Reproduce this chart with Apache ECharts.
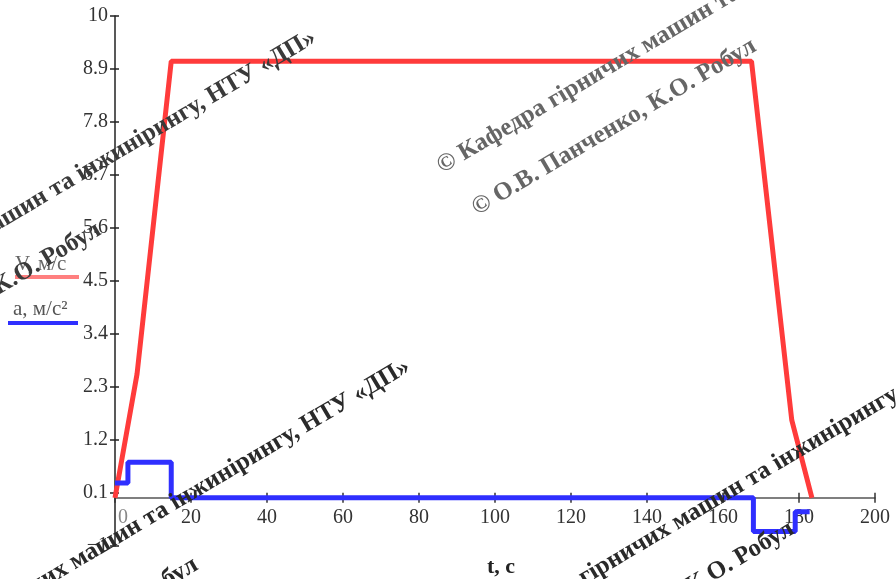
<!DOCTYPE html>
<html>
<head>
<meta charset="utf-8">
<script src="https://cdn.jsdelivr.net/npm/echarts@6/dist/echarts.min.js"></script>
<style>
  html, body { margin: 0; padding: 0; background: #fff; }
  #chart { width: 896px; height: 579px; }
</style>
</head>
<body>
<div id="chart"></div>
<script>
// ---- data ----
const vTime = [0, 5.8, 14.8, 167.5, 178.1, 183.4];
const vSpeed = [0, 2.57, 9.06, 9.06, 1.61, 0];

const aTime = [0, 3.4, 3.4, 14.8, 14.8, 168, 168, 179, 179, 182.8];
const aAccel = [0.31, 0.31, 0.74, 0.74, 0, 0, -0.70, -0.70, -0.29, -0.29];

const xTicks = [0, 20, 40, 60, 80, 100, 120, 140, 160, 180, 200];
const yTicks = [-1, 0.1, 1.2, 2.3, 3.4, 4.5, 5.6, 6.7, 7.8, 8.9, 10];
const yTickLabels = ['\u22121', '0.1', '1.2', '2.3', '3.4', '4.5', '5.6', '6.7', '7.8', '8.9', '10'];

const seriesNames = ['V, м/с', 'a, м/с²'];
const xName = 't, c';
const watermark1 = '© Кафедра гірничих машин та інжинірингу, НТУ «ДП»';
const watermark2 = '© О.В. Панченко, К.О. Робул';

const RED = '#ff3b3b';
const BLUE = '#2f2fff';
const FONT = 'Liberation Serif';

const vData = vTime.map((t, i) => [t, vSpeed[i]]);
const aData = aTime.map((t, i) => [t, aAccel[i]]);

const Y_MIN = -1, Y_MAX = 10;
const GRID_TOP = 16, GRID_BOTTOM = 33, CHART_H = 579;
// x axis crosses at y = 0: shift it up from the grid bottom by the pixel height of (0 - Y_MIN)
const plotH = CHART_H - GRID_TOP - GRID_BOTTOM;
const zeroShift = -plotH * (0 - Y_MIN) / (Y_MAX - Y_MIN);

const chart = echarts.init(document.getElementById('chart'), null, { renderer: 'canvas' });

const ang = 30.6 * Math.PI / 180;
function wm(text, x, y, align, color) {
  return {
    type: 'text', x: x, y: y, rotation: ang, z: 100, silent: true,
    style: {
      text: text, fill: color, font: 'bold 25px "' + FONT + '"',
      textAlign: align, textVerticalAlign: 'middle'
    }
  };
}

const baseX = {
  type: 'value', min: 0, max: 200, interval: 20, position: 'bottom',
  offset: zeroShift,
  splitLine: { show: false }
};
const baseY = {
  type: 'value', min: Y_MIN, max: Y_MAX, position: 'left',
  splitLine: { show: false }
};

const option = {
  animation: false,
  backgroundColor: '#fff',
  grid: { left: 115, right: 21, top: GRID_TOP, bottom: GRID_BOTTOM, containLabel: false, outerBoundsMode: 'none' },
  xAxis: [
    Object.assign({}, baseX, {
      axisLine: { onZero: false, lineStyle: { color: '#555', width: 1.5 } },
      axisTick: { show: true, length: 5, lineStyle: { color: '#333', width: 1.5 } },
      axisLabel: {
        margin: 10, color: '#333', fontFamily: FONT, fontSize: 20,
        formatter: v => v === 0 ? '{z|0}' : String(v),
        rich: { z: { padding: [0, 0, 0, 16], fontFamily: FONT, fontSize: 20, color: '#888' } }
      },
      name: xName, nameLocation: 'middle', nameGap: 58,
      nameTextStyle: { fontFamily: FONT, fontSize: 22, fontWeight: 'bold', color: '#222', padding: [0, 0, 0, 12] }
    }),
    Object.assign({}, baseX, {
      axisLine: { show: false, onZero: false },
      axisTick: { show: true, inside: true, length: 5, lineStyle: { color: '#333', width: 1.5 } },
      axisLabel: { show: false }
    })
  ],
  yAxis: [
    Object.assign({}, baseY, {
      axisLine: { show: true, onZero: false, lineStyle: { color: '#222', width: 1.5 } },
      axisTick: { show: true, length: 5, customValues: yTicks, lineStyle: { color: '#222', width: 1.5 } },
      axisLabel: {
        margin: 7, color: '#333', fontFamily: FONT, fontSize: 20,
        customValues: yTicks,
        formatter: v => {
          const i = yTicks.findIndex(t => Math.abs(t - v) < 1e-6);
          return i >= 0 ? yTickLabels[i] : '';
        }
      }
    }),
    Object.assign({}, baseY, {
      axisLine: { show: false, onZero: false },
      axisTick: { show: true, inside: true, length: 4, customValues: yTicks, lineStyle: { color: '#222', width: 1.5 } },
      axisLabel: { show: false }
    })
  ],
  series: [
    {
      name: seriesNames[0], type: 'line', data: vData, xAxisIndex: 0, yAxisIndex: 0,
      showSymbol: false, symbol: 'none', z: 3,
      lineStyle: { color: RED, width: 5 }
    },
    {
      name: seriesNames[1], type: 'line', data: aData, xAxisIndex: 0, yAxisIndex: 0,
      showSymbol: false, symbol: 'none', z: 4,
      lineStyle: { color: BLUE, width: 5 }
    }
  ],
  graphic: [
    { type: 'text', x: 15, y: 264, style: { text: seriesNames[0], fill: '#666', font: '21px "' + FONT + '"', textVerticalAlign: 'middle' } },
    { type: 'line', shape: { x1: 15, y1: 277, x2: 79, y2: 277 }, style: { stroke: '#ff7f7f', lineWidth: 4 } },
    { type: 'text', x: 13, y: 309, style: { text: seriesNames[1], fill: '#555', font: '21px "' + FONT + '"', textVerticalAlign: 'middle' } },
    { type: 'line', shape: { x1: 8, y1: 323, x2: 78, y2: 323 }, style: { stroke: BLUE, lineWidth: 4 } },

    wm(watermark1, 439, 168, 'left', '#666'),
    wm(watermark2, 474, 210, 'left', '#666'),
    wm(watermark1, 314, 36, 'right', '#3a3a3a'),
    wm(watermark2, 99, 228, 'right', '#3a3a3a'),
    wm(watermark1, 408, 365, 'right', '#2a2a2a'),
    wm(watermark2, 196, 563, 'right', '#2a2a2a'),
    wm(watermark1, 470, 645, 'left', '#2a2a2a'),
    wm(watermark2, 792, 527, 'right', '#2a2a2a')
  ]
};

chart.setOption(option);
</script>
</body>
</html>
